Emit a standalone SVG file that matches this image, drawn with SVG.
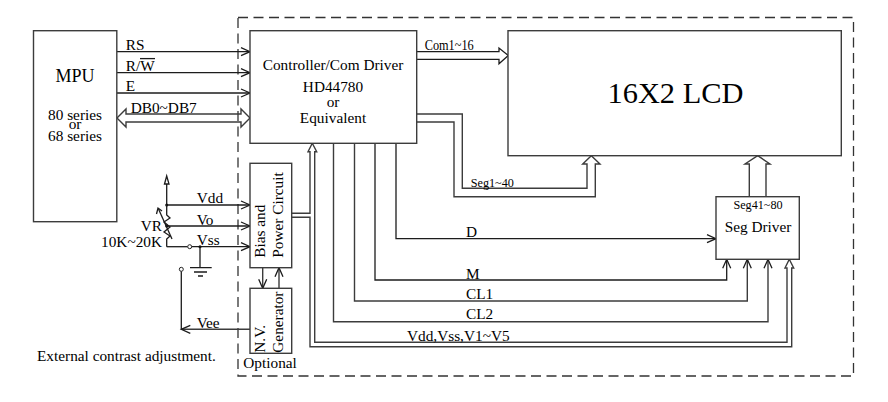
<svg xmlns="http://www.w3.org/2000/svg" width="888" height="402" viewBox="0 0 888 402">
<style>
text{font-family:"Liberation Serif","Times New Roman",serif;font-size:15.3px;fill:#000}
.box{fill:#fff;stroke:#3c3c3c;stroke-width:1.4}
.ln{fill:none;stroke:#1c1c1c;stroke-width:1.3}
.gl{fill:none;stroke:#3c3c3c;stroke-width:1.4}
.ar{marker-end:url(#open)}
.s{font-size:12.2px}
.m{text-anchor:middle}
</style>
<defs>
<marker id="open" markerUnits="userSpaceOnUse" markerWidth="12" markerHeight="12" refX="10" refY="6" orient="auto" overflow="visible">
<path d="M1,2 L10,6 L1,10" fill="none" stroke="#1c1c1c" stroke-width="1.3"/>
</marker>
</defs>
<rect width="888" height="402" fill="#fff"/>
<rect x="238" y="17.5" width="615.5" height="358.5" fill="none" stroke="#333" stroke-width="1.3" stroke-dasharray="10 5.5"/>
<g id="connectors">
<path class="ln ar" d="M117,51.7H250"/>
<path class="ln ar" d="M117,72.7H250"/>
<path class="ln ar" d="M117,93H250"/>
<path class="gl" d="M126,114H241V109L250,118L241,127V122H126V127L117,118L126,109Z"/>
<path class="ln" d="M416.7,51.7H499V48L508.3,55.5L499,63.7V59.3H416.7"/>
<path class="gl" d="M416.7,114H462.3V188.3H587V164H582.7L591.3,155.7L600,164H595.3V196.7H454V122H416.7"/>
<path class="gl" d="M749.3,196.7V164H745L757.7,155.7L770,164H766V196.7"/>
<path class="ln ar" d="M396,143.3V238.7H716"/>
<path class="ln ar" d="M375,143.3V280H726.7V259.3"/>
<path class="gl ar" d="M354.5,143.3V301H747.3V259.3"/>
<path class="gl ar" d="M333.5,143.3V321.7H768V259.3"/>
<path class="gl" d="M291.7,213.3H310V151.7H308L312.3,143.3L316.7,151.7H314.7V342.3H787V268H785L789.3,259.3L793.7,268H791.7V346.7H310V217.3H291.7"/>
<path class="gl ar" d="M262.7,267.7V288.3"/>
<path class="gl ar" d="M279,288.3V267.7"/>
<path class="gl ar" d="M250,329.3H181.3"/>
<path class="ln" d="M181.3,329.3V271.3"/>
<circle cx="181.3" cy="269.3" r="2" fill="#fff" stroke="#222"/>
<path class="ln" d="M166.7,205V184"/>
<path class="ln" d="M164.5,184L166.7,176L169,184Z"/>
<path class="ln ar" d="M166.7,205H250"/>
<path class="ln ar" d="M166.7,226H250"/>
<path class="ln" d="M166.7,246.7H187.7"/>
<circle cx="189.7" cy="246.7" r="2" fill="#fff" stroke="#222"/>
<path class="ln ar" d="M191.7,246.7H250"/>
<circle cx="166.7" cy="205" r="1.5" fill="#111"/>
<circle cx="166.7" cy="226" r="1.5" fill="#111"/>
<circle cx="200" cy="246.7" r="1.5" fill="#111"/>
<path class="ln" d="M166.7,205V215L170,218L164,222L170,227L164,232L170,236L166.7,239V246.7"/>
<path class="ln" d="M172,239L158.5,209"/>
<path class="ln" d="M156.5,214L158,208L162,211"/>
<path class="ln" d="M200,246.7V267.7M190,267.7H211.7M194,272H207M198,276H203"/>
</g>
<g id="mpu">
<rect class="box" x="33.5" y="30.7" width="83.3" height="191"/>
<text class="m" x="75" y="81.7" style="font-size:18px">MPU</text>
<text class="m" x="75" y="120">80 series</text>
<text class="m" x="75" y="128.7">or</text>
<text class="m" x="75" y="140.7">68 series</text>
</g>
<g id="controller">
<rect class="box" x="250" y="30.7" width="166.7" height="112.6"/>
<text class="m" x="333" y="70">Controller/Com Driver</text>
<text class="m" x="333" y="91.7">HD44780</text>
<text class="m" x="333" y="107">or</text>
<text class="m" x="333" y="123">Equivalent</text>
</g>
<g id="lcd">
<rect class="box" x="508" y="30.7" width="333.3" height="125"/>
<text class="m" x="675.5" y="103.3" style="font-size:30.4px">16X2 LCD</text>
</g>
<g id="seg-driver">
<rect class="box" x="716" y="196.7" width="83.3" height="62.6"/>
<text class="s m" x="758" y="209">Seg41~80</text>
<text class="m" x="758" y="231.7">Seg Driver</text>
</g>
<g id="bias">
<rect class="box" x="250" y="163.3" width="41.7" height="104.4"/>
<text transform="translate(265,257.7) rotate(-90)">Bias and</text>
<text transform="translate(283.3,257.7) rotate(-90)">Power Circuit</text>
</g>
<g id="nv-generator">
<rect class="box" x="250" y="288.3" width="41.7" height="65"/>
<text transform="translate(265,352.7) rotate(-90)">N.V.</text>
<text transform="translate(283.3,352.7) rotate(-90)">Generator</text>
</g>
<g id="labels">
<text x="125.7" y="50">RS</text>
<text x="125.7" y="71">R/W</text>
<path class="ln" d="M140,58.6H155"/>
<text x="125.7" y="91.3">E</text>
<text x="130.7" y="112.7">DB0~DB7</text>
<text x="424.7" y="50" style="font-size:14px" textLength="49" lengthAdjust="spacingAndGlyphs">Com1~16</text>
<text class="s" x="470.7" y="186.7">Seg1~40</text>
<text x="466" y="237">D</text>
<text x="466" y="279">M</text>
<text x="466" y="298.5">CL1</text>
<text x="466" y="319">CL2</text>
<text x="407" y="341">Vdd,Vss,V1~V5</text>
<text x="196.7" y="203.3">Vdd</text>
<text x="196.7" y="224.7">Vo</text>
<text x="196.7" y="245">Vss</text>
<text x="162" y="230.7" text-anchor="end">VR</text>
<text x="162" y="246.7" text-anchor="end">10K~20K</text>
<text x="196.7" y="327.7">Vee</text>
<text x="243.3" y="368.3">Optional</text>
<text x="37" y="361">External contrast adjustment.</text>
</g>
</svg>
